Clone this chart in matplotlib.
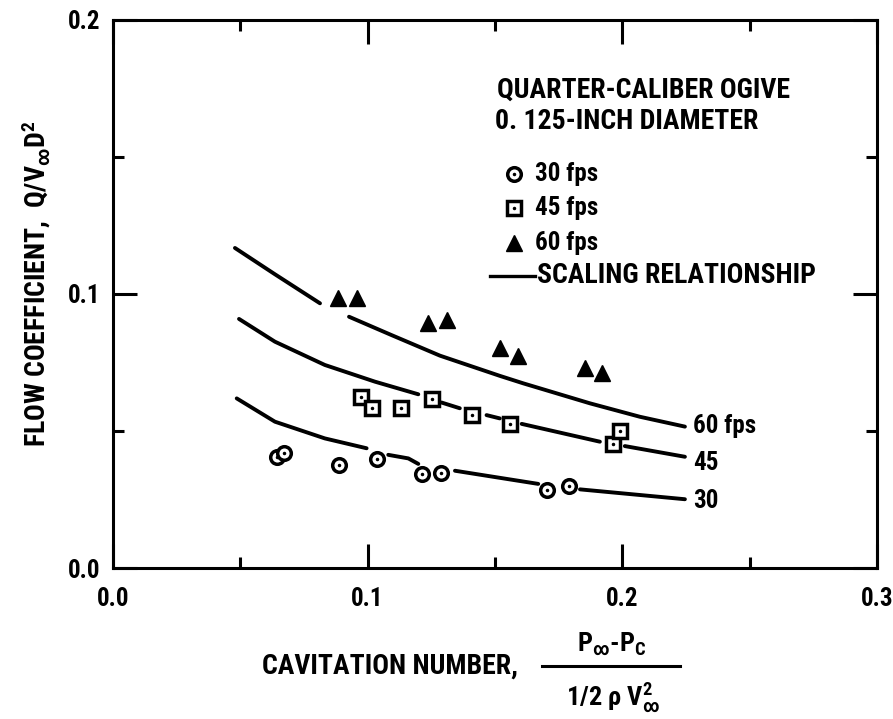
import numpy as np
import matplotlib
matplotlib.use("Agg")
import matplotlib.pyplot as plt
import matplotlib.font_manager as fm
from matplotlib.lines import Line2D
from matplotlib.ticker import MultipleLocator

# pick a narrow font if there is one
avail = {f.name for f in fm.fontManager.ttflist}
font = "DejaVu Sans"
for cand in ["Liberation Sans Narrow", "Roboto Condensed", "DejaVu Sans Condensed", "Open Sans Condensed"]:
    if cand in avail:
        font = cand
        break
plt.rcParams["font.family"] = [font, "DejaVu Sans"]
plt.rcParams["font.weight"] = "bold"
plt.rcParams["mathtext.fontset"] = "custom"
plt.rcParams["mathtext.rm"] = font + ":bold"
plt.rcParams["mathtext.it"] = font + ":bold"

# data
x30 = [0.0643, 0.0673, 0.0888, 0.1035, 0.1213, 0.1289, 0.1705, 0.1792]
y30 = [0.0406, 0.0420, 0.0376, 0.0399, 0.0343, 0.0346, 0.0284, 0.0298]

x45 = [0.0974, 0.1018, 0.1133, 0.1254, 0.1411, 0.1559, 0.1962, 0.1991]
y45 = [0.0623, 0.0583, 0.0583, 0.0616, 0.0558, 0.0526, 0.0453, 0.0500]

x60 = [0.0882, 0.0957, 0.1236, 0.1310, 0.1520, 0.1589, 0.1853, 0.1919]
y60 = [0.0984, 0.0986, 0.0893, 0.0905, 0.0802, 0.0774, 0.0729, 0.0713]

# scaling relationship curves (nan = gap where the line is broken)
nan = np.nan
c60_x = [0.0479, 0.0636, 0.0813, nan, 0.0927, 0.1094, 0.1284, 0.1520, 0.1611, 0.1873, 0.2069, 0.2246]
c60_y = [0.1168, 0.1072, 0.0966, nan, 0.0917, 0.0850, 0.0775, 0.0701, 0.0674, 0.0601, 0.0552, 0.0516]

c45_x = [0.0495, 0.0636, 0.0832, 0.1029, 0.1199, nan, 0.1290, 0.1362, nan, 0.1467, 0.1519, nan,
         0.1605, 0.1912, nan, 0.2010, 0.2246]
c45_y = [0.0909, 0.0826, 0.0741, 0.0680, 0.0634, nan, 0.0604, 0.0583, nan, 0.0558, 0.0546, nan,
         0.0526, 0.0461, nan, 0.0445, 0.0406]

c30_x = [0.0486, 0.0636, 0.0832, 0.0996, nan, 0.1081, 0.1160, 0.1199, nan, 0.1343, 0.1670, nan, 0.1834, 0.2246]
c30_y = [0.0619, 0.0534, 0.0473, 0.0437, nan, 0.0413, 0.0400, 0.0380, nan, 0.0355, 0.0307, nan, 0.0287, 0.0251]

curve_labels = ["60 fps", "45", "30"]
curve_label_y = [0.0518, 0.0383, 0.0245]

x_ticks = [0.0, 0.1, 0.2, 0.3]
x_ticklabels = ["0.0", "0.1", "0.2", "0.3"]
y_ticks = [0.0, 0.1, 0.2]
y_ticklabels = ["0.0", "0.1", "0.2"]

fig = plt.figure(figsize=(8.93, 7.19), dpi=100)
ax = fig.add_axes([0.1265, 0.2100, 0.8555, 0.7622])

lw = 2.8
ax.plot(c60_x, c60_y, color="black", lw=lw, solid_capstyle="round", solid_joinstyle="round")
ax.plot(c45_x, c45_y, color="black", lw=lw, solid_capstyle="round", solid_joinstyle="round")
ax.plot(c30_x, c30_y, color="black", lw=lw, solid_capstyle="round", solid_joinstyle="round")

ax.plot(x30, y30, "o", ms=9.8, mfc="white", mec="black", mew=2.5, zorder=3)
ax.plot(x30, y30, ".", ms=3, color="black", zorder=4)
ax.plot(x45, y45, "s", ms=9.5, mfc="white", mec="black", mew=2.5, zorder=3)
ax.plot(x45, y45, ".", ms=3, color="black", zorder=4)
ax.plot(x60, y60, "^", ms=12, color="black", zorder=3)

for lab, yy in zip(curve_labels, curve_label_y):
    ax.text(0.2277, yy, lab, fontsize=18, va="center", ha="left")

ax.set_xlim(0, 0.3)
ax.set_ylim(0, 0.2)
ax.set_xticks(x_ticks, x_ticklabels)
ax.set_yticks(y_ticks, y_ticklabels)
ax.xaxis.set_minor_locator(MultipleLocator(0.05))
ax.yaxis.set_minor_locator(MultipleLocator(0.05))
ax.tick_params(which="both", direction="in", top=True, right=True, width=2.2)
ax.tick_params(which="major", length=17)
ax.tick_params(which="minor", length=8)
ax.tick_params(axis="x", which="major", pad=14, labelsize=18)
ax.tick_params(axis="y", which="major", pad=9, labelsize=18)
for s in ax.spines.values():
    s.set_linewidth(2.2)

# legend, drawn by hand
tr = ax.transAxes
ax.text(0.5026, 0.8723, "QUARTER-CALIBER OGIVE", transform=tr, fontsize=20, va="center")
ax.text(0.5000, 0.8139, "0. 125-INCH DIAMETER", transform=tr, fontsize=20, va="center")
ax.plot([0.5249], [0.719], "o", ms=9.8, mfc="white", mec="black", mew=2.5, transform=tr)
ax.plot([0.5249], [0.719], ".", ms=3, color="black", transform=tr)
ax.text(0.5524, 0.719, "30 fps", transform=tr, fontsize=18, va="center")
ax.plot([0.5249], [0.657], "s", ms=9.5, mfc="white", mec="black", mew=2.5, transform=tr)
ax.plot([0.5249], [0.657], ".", ms=3, color="black", transform=tr)
ax.text(0.5524, 0.657, "45 fps", transform=tr, fontsize=18, va="center")
ax.plot([0.5249], [0.593], "^", ms=12, color="black", transform=tr)
ax.text(0.5524, 0.593, "60 fps", transform=tr, fontsize=18, va="center")
ax.add_line(Line2D([0.4935, 0.5524], [0.533, 0.533], color="black", lw=2.4, transform=tr))
ax.text(0.5550, 0.533, "SCALING RELATIONSHIP", transform=tr, fontsize=20, va="center")

# axis labels
fig.text(0.0403, 0.605, r"FLOW COEFFICIENT,  Q/V$_{\infty}$D$^{2}$", rotation=90,
         fontsize=20, ha="center", va="center")
fig.text(0.5801, 0.0737, "CAVITATION NUMBER,", fontsize=20, ha="right", va="center")
fig.add_artist(Line2D([0.607, 0.7615], [0.0737, 0.0737], color="black", lw=2.2, transform=fig.transFigure))
fig.text(0.6853, 0.1043, r"P$_{\infty}$-P$_{\mathrm{C}}$", fontsize=19, ha="center", va="center")
fig.text(0.6865, 0.0306, r"1/2 $\rho$ V$_{\infty}^{2}$", fontsize=19, ha="center", va="center")

fig.savefig("out.png", dpi=100)
